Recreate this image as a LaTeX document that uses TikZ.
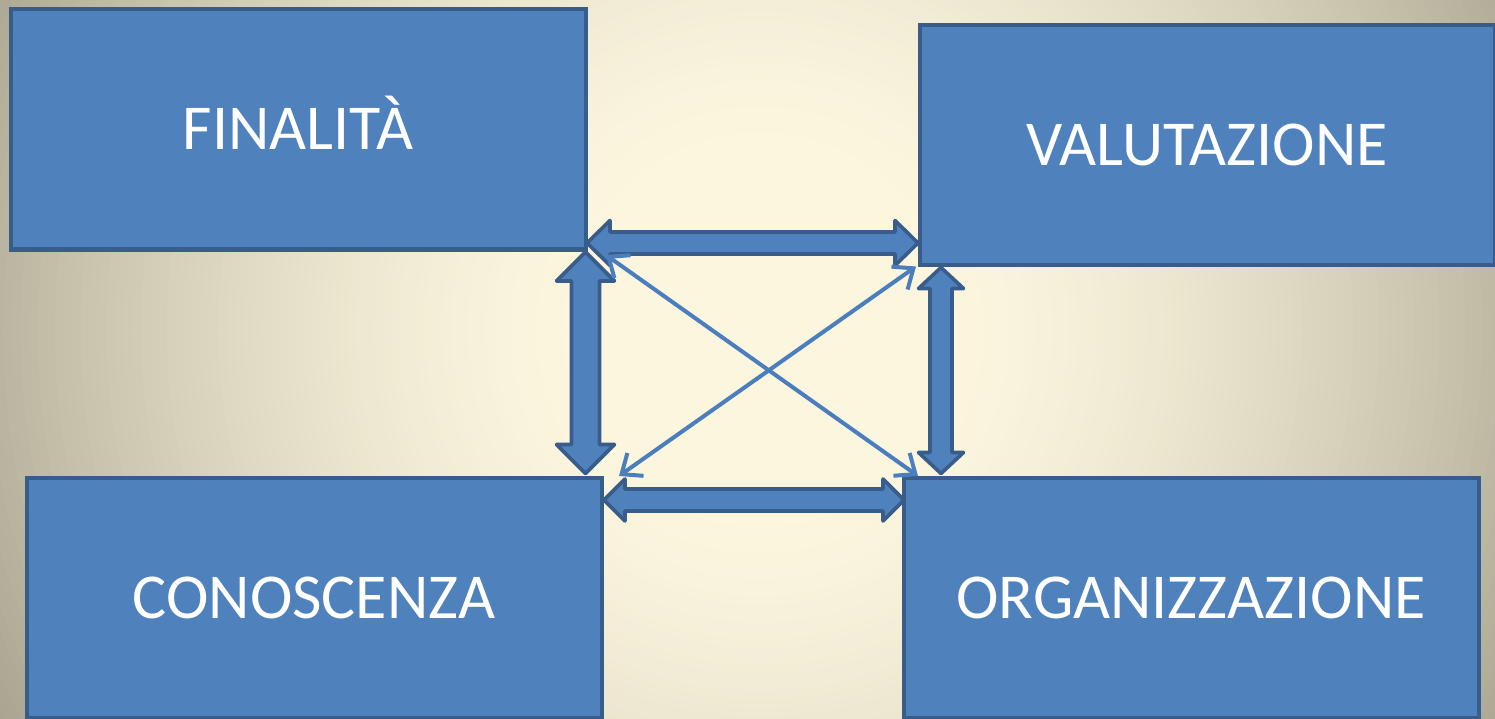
\documentclass[tikz,border=0pt]{standalone}
\usepackage{fontspec}
\setmainfont{Carlito}
\usetikzlibrary{calc,arrows.meta}
\definecolor{boxfill}{HTML}{4F81BD}
\definecolor{boxline}{HTML}{385D8A}
\definecolor{thinblue}{HTML}{4A7EBF}
\definecolor{bgin}{HTML}{FCF6DF}
\definecolor{bgout}{HTML}{A9A48F}
\tikzset{
  box/.style={draw=boxline, fill=boxfill, line width=4pt, outer sep=0pt, minimum width=575pt, minimum height=240pt,
    inner sep=0pt, text=white, font=\fontsize{64}{77}\selectfont, text height=41pt, text depth=0pt},
  blockarr/.style={draw=boxline, fill=boxfill, line width=3.6pt, line join=round},
  thinarr/.style={draw=thinblue, line width=4pt, {Straight Barb[length=17pt,width=28pt,line width=4pt]}-{Straight Barb[length=17pt,width=28pt,line width=4pt]}}
}
\newcommand\blockarrow[6]{%
  \coordinate (#1a) at #2; \coordinate (#1b) at #3;
  \coordinate (#1p) at ($(#1a)!#6!(#1b)$);
  \coordinate (#1q) at ($(#1b)!#6!(#1a)$);
  \draw[blockarr] (#1a) -- ($(#1p)!#5!90:(#1b)$) -- ($(#1p)!#4!90:(#1b)$) -- ($(#1q)!#4!-90:(#1a)$) -- ($(#1q)!#5!-90:(#1a)$) -- (#1b) -- ($(#1q)!#5!90:(#1a)$) -- ($(#1q)!#4!90:(#1a)$) -- ($(#1p)!#4!-90:(#1b)$) -- ($(#1p)!#5!-90:(#1b)$) -- cycle;
}
\begin{document}
\begin{tikzpicture}[x=1pt,y=-1pt]
\useasboundingbox (0,0) rectangle (1495,719);
\fill[bgout] (0,0) rectangle (1495,719);
\begin{scope}
\clip (0,0) rectangle (1495,719);
\foreach \i in {0,...,99}{
  \pgfmathsetmacro\tt{1-\i/100}
  \pgfmathsetmacro\rr{860*\tt}
  \pgfmathsetmacro\pp{100*(1-(max(\tt-0.2,0.0001)/0.8)^1.6)}
  \fill[bgin!\pp!bgout] (760,330) circle (\rr);
}
\end{scope}
% boxes
\node[box] (fin) at (298,129.5) {FINALITÀ};
\node[box] (val) at (1207,145) {VALUTAZIONE};
\node[box] (con) at (314,597.5) {CONOSCENZA};
\node[box] (org) at (1191,597.5) {ORGANIZZAZIONE};
% block arrows
\blockarrow{ta}{($(fin.south east)+(1.5,-6.5)$)}{($(val.west)+(-1.5,98)$)}{11pt}{22.5pt}{23pt}
\blockarrow{la}{($(fin.south east)+(0,2.5)$)}{($(con.north east)+(-16,-4)$)}{14pt}{29pt}{29pt}
\blockarrow{ra}{($(val.south west)+(21.5,2.5)$)}{($(org.north west)+(37.5,-4)$)}{11pt}{22.5pt}{21pt}
\blockarrow{ba}{($(con.north east)+(2.5,22.5)$)}{($(org.north west)+(0.5,22.5)$)}{11pt}{21pt}{21pt}
% thin diagonal arrows
\coordinate (d1s) at ($(fin.south east)+(20.5,5.5)$);
\coordinate (d1e) at ($(org.north west)+(14.5,-1.5)$);
\coordinate (d2s) at ($(val.south west)+(-3.5,1.5)$);
\coordinate (d2e) at ($(con.north east)+(17.5,-1.5)$);
\draw[thinarr] (d1s) -- (d1e);
\draw[thinarr] (d2s) -- (d2e);
\end{tikzpicture}
\end{document}
